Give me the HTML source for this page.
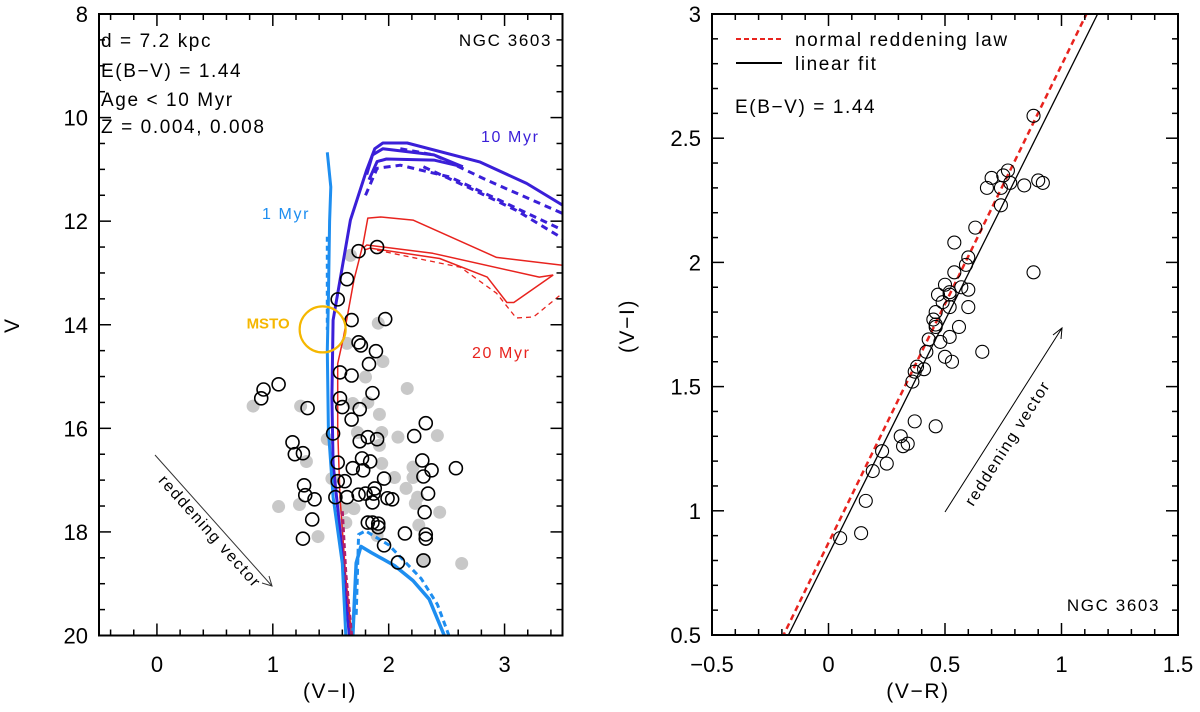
<!DOCTYPE html>
<html><head><meta charset="utf-8">
<style>
html,body{margin:0;padding:0;background:#fff;width:1200px;height:712px;overflow:hidden;}
svg{display:block;overflow:hidden;font-family:"Liberation Sans",sans-serif;}
.ann{letter-spacing:1.6px;}
</style></head>
<body>
<svg id="chart" width="1200" height="712" viewBox="0 0 1200 712" xmlns="http://www.w3.org/2000/svg">
<g id="left"></g>
<g id="right"></g>
</svg>
<script>
// ---------- LEFT PANEL DATA (V-I vs V) ----------
const openVI = [1.74,1.90,1.64,1.56,1.68,1.97,1.74,1.76,1.89,1.83,1.58,1.68,1.05,0.92,0.90,1.86,1.30,1.58,1.60,1.75,1.68,2.32,1.52,2.22,1.17,1.75,1.82,1.90,1.19,1.26,1.56,1.77,1.84,2.29,2.37,2.58,1.69,1.78,2.30,1.96,1.56,1.62,1.27,1.88,1.28,1.36,1.54,1.64,1.74,1.80,1.87,1.86,1.99,2.03,2.34,2.31,1.34,1.82,1.86,1.91,1.91,1.26,2.14,2.32,2.32,1.96,2.08,2.30];
const openV  = [12.58,12.50,13.12,13.51,13.91,13.89,14.34,14.40,14.51,14.76,14.92,14.98,15.15,15.25,15.42,15.32,15.61,15.42,15.59,15.63,15.83,15.90,16.10,16.15,16.27,16.25,16.17,16.21,16.50,16.48,16.66,16.58,16.64,16.62,16.81,16.77,16.77,16.81,16.93,16.97,17.02,17.02,17.10,17.16,17.29,17.37,17.33,17.33,17.28,17.26,17.26,17.43,17.35,17.37,17.26,17.62,17.76,17.82,17.82,17.84,17.91,18.13,18.03,18.05,18.13,18.26,18.59,18.55];
const grayVI = [1.67,1.91,1.64,1.95,1.80,2.16,0.83,1.24,1.92,1.69,1.82,1.73,1.94,2.08,2.42,1.47,1.92,1.29,1.94,2.21,2.05,2.21,1.51,2.15,2.25,2.23,1.05,1.23,1.61,1.70,2.44,1.63,2.26,1.39,1.90,2.30,2.63];
const grayV  = [12.66,13.97,14.36,14.71,15.01,15.23,15.57,15.57,15.73,15.52,15.50,16.08,16.08,16.17,16.14,16.21,16.33,16.64,16.68,16.75,16.95,16.95,16.97,17.16,17.33,17.45,17.51,17.47,17.55,17.55,17.62,17.82,17.87,18.09,18.07,18.55,18.61];
const iso1Solid = [[1.47,10.67],[1.50,11.34],[1.49,12.0],[1.48,13.5],[1.47,14.5],[1.48,16.04],[1.52,17.33],[1.60,18.61],[1.63,20.0]];
const iso1Dash  = [[1.47,12.3],[1.47,13.2],[1.47,14.1]];
const iso1Low   = [[1.69,20.0],[1.72,18.6],[1.76,18.28],[1.85,18.4],[2.05,18.65],[2.21,18.94],[2.35,19.3],[2.48,20.0]];
const iso1LowDash = [[1.72,19.6],[1.74,18.05],[1.80,17.98],[2.0,18.25],[2.28,18.9],[2.42,19.4],[2.52,20.0]];
const iso10A = [[1.66,20.0],[1.58,17.97],[1.52,16.68],[1.51,15.4],[1.52,13.91],[1.67,11.98],[1.81,11.01],[1.88,10.6],[1.95,10.49],[2.16,10.49],[2.79,10.86],[3.19,11.27],[3.5,11.69]];
const iso10B = [[1.81,11.1],[1.86,10.72],[1.95,10.6],[2.39,10.72],[2.64,10.95]];
const iso10C = [[1.83,11.2],[1.90,10.85],[1.98,10.8],[2.39,10.82],[2.64,10.95]];
const iso10D1 = [[2.1,10.6],[2.39,10.72],[2.85,11.21],[3.5,11.85]];
const iso10D2 = [[1.80,11.5],[1.90,10.98],[2.10,10.92],[2.53,11.15],[2.96,11.6],[3.5,12.17]];
const iso10D3 = [[2.3,10.95],[2.68,11.34],[3.1,11.79],[3.5,12.33]];
const iso20A = [[1.68,20.0],[1.63,18.88],[1.58,17.33],[1.56,16.04],[1.56,14.75],[1.61,14.24],[1.70,13.14],[1.78,12.43],[1.82,11.94],[1.93,11.92],[2.21,11.98],[2.93,12.7],[3.5,12.85]];
const iso20B = [[1.79,12.5],[1.81,12.46],[2.38,12.62],[3.3,13.08],[3.42,13.04]];
const iso20C = [[1.80,12.55],[1.84,12.52],[2.44,12.72],[2.85,13.08],[3.02,13.57],[3.08,13.57],[3.42,13.04]];
const iso20D = [[1.9,12.56],[2.62,12.89],[2.93,13.39],[3.1,13.87],[3.25,13.85],[3.5,13.39]];
const magDash = [[1.60,17.6],[1.63,18.8],[1.68,20.0]];
const msto = [1.43, 14.09];
const leftXTicks = [0,1,2,3];
const leftYTicks = [8,10,12,14,16,18,20];

// ---------- RIGHT PANEL DATA (V-R vs V-I) ----------
const ccVR = [0.77,0.75,0.70,0.68,0.74,0.78,0.84,0.90,0.92,0.74,0.63,0.54,0.60,0.59,0.54,0.88,0.50,0.57,0.60,0.52,0.47,0.52,0.49,0.52,0.60,0.46,0.45,0.46,0.46,0.56,0.43,0.48,0.52,0.66,0.42,0.50,0.53,0.38,0.37,0.41,0.36,0.37,0.46,0.31,0.34,0.32,0.23,0.25,0.19,0.16,0.14,0.05,0.88];
const ccVI = [2.37,2.35,2.34,2.30,2.30,2.32,2.31,2.33,2.32,2.23,2.14,2.08,2.02,1.99,1.96,1.96,1.91,1.90,1.89,1.88,1.87,1.87,1.84,1.82,1.82,1.80,1.77,1.75,1.74,1.74,1.69,1.68,1.70,1.64,1.64,1.62,1.60,1.58,1.56,1.57,1.52,1.36,1.34,1.30,1.27,1.26,1.24,1.19,1.16,1.04,0.91,0.89,2.59];
const fitCoef = [0.824, 1.884];   // intercept, slope
const normCoef = [0.871, 1.923];
const rightXTicks = [-0.5,0,0.5,1,1.5];
const rightXLabels = ["\u22120.5","0","0.5","1","1.5"];
const rightYTicks = [0.5,1,1.5,2,2.5,3];
const rightYLabels = ["0.5","1","1.5","2","2.5","3"];

// ---------- helpers ----------
const NS="http://www.w3.org/2000/svg";
function mk(parent,tag,attrs,text){const e=document.createElementNS(NS,tag);for(const k in attrs)e.setAttribute(k,attrs[k]);if(text!==undefined)e.textContent=text;parent.appendChild(e);return e;}

const L={x0:99,x1:562.5,y0:14,y1:635.5,xmin:-0.5,xmax:3.5,ymin:8,ymax:20};
const lx=v=>L.x0+(v-L.xmin)/(L.xmax-L.xmin)*(L.x1-L.x0);
const ly=v=>L.y0+(v-L.ymin)/(L.ymax-L.ymin)*(L.y1-L.y0);
const R={x0:712,x1:1178,y0:14,y1:635,xmin:-0.5,xmax:1.5,ymin:0.5,ymax:3};
const rx=v=>R.x0+(v-R.xmin)/(R.xmax-R.xmin)*(R.x1-R.x0);
const ry=v=>R.y1-(v-R.ymin)/(R.ymax-R.ymin)*(R.y1-R.y0);

const left=document.getElementById('left');
const right=document.getElementById('right');

const defs=mk(document.getElementById('chart'),'defs',{});
const cpL=mk(defs,'clipPath',{id:'cl'});mk(cpL,'rect',{x:L.x0,y:L.y0,width:L.x1-L.x0,height:L.y1-L.y0});
const cpR=mk(defs,'clipPath',{id:'cr'});mk(cpR,'rect',{x:R.x0,y:R.y0,width:R.x1-R.x0,height:R.y1-R.y0});

// ===== LEFT =====
const gGray=mk(left,'g',{'clip-path':'url(#cl)'});


for(let i=0;i<grayVI.length;i++){
  const c=mk(gGray,'circle',{cx:lx(grayVI[i]),cy:ly(grayV[i]),r:6.5,fill:'#c8c8c8'});
  
  
}
function poly(parent,pts,fx,fy,style,name){
  const d=pts.map((p,i)=>(i?'L':'M')+fx(p[0]).toFixed(1)+','+fy(p[1]).toFixed(1)).join(' ');
  const e=mk(parent,'path',Object.assign({d:d,fill:'none','stroke-linejoin':'round'},style));
  
  
  return e;
}
const gIso=mk(left,'g',{'clip-path':'url(#cl)'});


const red='#e8231e', blue='#3a1fd8', lblue='#1e8ef0';
poly(gIso,iso20A,lx,ly,{stroke:red,'stroke-width':1.5},'isochrone-20myr-a');
poly(gIso,iso20B,lx,ly,{stroke:red,'stroke-width':1.5},'isochrone-20myr-b');
poly(gIso,iso20C,lx,ly,{stroke:red,'stroke-width':1.5},'isochrone-20myr-c');
poly(gIso,iso20D,lx,ly,{stroke:red,'stroke-width':1.3,'stroke-dasharray':'5,4'},'isochrone-20myr-dashed');
poly(gIso,iso10A,lx,ly,{stroke:blue,'stroke-width':3},'isochrone-10myr-a');
poly(gIso,iso10B,lx,ly,{stroke:blue,'stroke-width':3},'isochrone-10myr-b');
poly(gIso,iso10C,lx,ly,{stroke:blue,'stroke-width':3},'isochrone-10myr-c');
poly(gIso,iso10D1,lx,ly,{stroke:blue,'stroke-width':3,'stroke-dasharray':'7,5'},'isochrone-10myr-dashed-1');
poly(gIso,iso10D2,lx,ly,{stroke:blue,'stroke-width':3,'stroke-dasharray':'7,5'},'isochrone-10myr-dashed-2');
poly(gIso,iso10D3,lx,ly,{stroke:blue,'stroke-width':3,'stroke-dasharray':'7,5'},'isochrone-10myr-dashed-3');
poly(gIso,iso1Solid,lx,ly,{stroke:lblue,'stroke-width':3},'isochrone-1myr');
poly(gIso,iso1Dash,lx,ly,{stroke:lblue,'stroke-width':3,'stroke-dasharray':'5,4'},'isochrone-1myr-dashed');
poly(gIso,iso1Low,lx,ly,{stroke:lblue,'stroke-width':3.5},'isochrone-1myr-pms');
poly(gIso,iso1LowDash,lx,ly,{stroke:lblue,'stroke-width':3,'stroke-dasharray':'6,4'},'isochrone-1myr-pms-dashed');
poly(gIso,magDash,lx,ly,{stroke:'#b0206a','stroke-width':3,'stroke-dasharray':'5,3'},'isochrone-overlap-dashed');

const gOpen=mk(left,'g',{'clip-path':'url(#cl)'});


for(let i=0;i<openVI.length;i++){
  const c=mk(gOpen,'circle',{cx:lx(openVI[i]),cy:ly(openV[i]),r:6.5,fill:'none',stroke:'#000','stroke-width':1.6});
  
  
}
const ms=mk(left,'circle',{cx:lx(msto[0]),cy:ly(msto[1]),r:23,fill:'none',stroke:'#f5b700','stroke-width':2.2});


mk(left,'text',{x:lx(msto[0])-33,y:ly(msto[1])-1,'text-anchor':'end','font-size':15,'font-weight':'bold',fill:'#f5b700',},'MSTO');

mk(left,'rect',{x:L.x0,y:L.y0,width:L.x1-L.x0,height:L.y1-L.y0,fill:'none',stroke:'#000','stroke-width':2,});
const lt=mk(left,'g',{stroke:'#000','stroke-width':1.5,});
for(let k=0;k<=20;k++){const v=-0.4+k*0.2; if(v>3.45)break; const isMaj=Math.abs(v-Math.round(v))<1e-6; const len=isMaj?12:6; const X=lx(v);
  mk(lt,'line',{x1:X,y1:L.y1,x2:X,y2:L.y1-len}); mk(lt,'line',{x1:X,y1:L.y0,x2:X,y2:L.y0+len});}
for(let k=1;k<24;k++){const v=8+k*0.5; const isMaj=(k%4===0); const len=isMaj?12:6; const Y=ly(v);
  mk(lt,'line',{x1:L.x0,y1:Y,x2:L.x0+len,y2:Y}); mk(lt,'line',{x1:L.x1,y1:Y,x2:L.x1-len,y2:Y});}
leftXTicks.forEach(v=>{const t=mk(left,'text',{x:lx(v),y:672,'text-anchor':'middle','font-size':22},String(v));
  });
leftYTicks.forEach(v=>{const t=mk(left,'text',{x:88,y:ly(v)+8,'text-anchor':'end','font-size':22},String(v));
  });
mk(left,'text',{x:330,y:698,'text-anchor':'middle','font-size':21,'class':'ann',},'(V\u2212I)');
mk(left,'text',{x:0,y:0,'text-anchor':'middle','font-size':21,transform:'translate(19,326) rotate(-90)',},'V');
const ann=[['d = 7.2 kpc',47],['E(B\u2212V) = 1.44',77],['Age < 10 Myr',106],['Z = 0.004, 0.008',133]];
ann.forEach(a=>{mk(left,'text',{x:101,y:a[1],'font-size':19,'class':'ann',},a[0]);});
mk(left,'text',{x:552,y:46,'text-anchor':'end','font-size':17,'class':'ann',},'NGC 3603');
mk(left,'text',{x:481,y:142,'font-size':16,'class':'ann',fill:blue,},'10 Myr');
mk(left,'text',{x:262,y:219,'font-size':16,'class':'ann',fill:lblue,},'1 Myr');
mk(left,'text',{x:472,y:358,'font-size':16,'class':'ann',fill:red,},'20 Myr');
const lv=mk(left,'g',{});
mk(lv,'line',{x1:155,y1:455,x2:272,y2:586,stroke:'#333','stroke-width':1});
mk(lv,'path',{d:'M262,583 L272,586 L269,576',fill:'none',stroke:'#333','stroke-width':1});
mk(lv,'text',{x:0,y:0,'text-anchor':'middle','font-size':16,'class':'ann',transform:'translate(206,535) rotate(48.2)'},'reddening vector');

// ===== RIGHT =====
const gL=mk(right,'g',{'clip-path':'url(#cr)'});


const fit=mk(gL,'line',{x1:rx(R.xmin),y1:ry(fitCoef[0]+fitCoef[1]*R.xmin),x2:rx(R.xmax),y2:ry(fitCoef[0]+fitCoef[1]*R.xmax),stroke:'#000','stroke-width':1.3});


const nrm=mk(gL,'line',{x1:rx(R.xmin),y1:ry(normCoef[0]+normCoef[1]*R.xmin),x2:rx(R.xmax),y2:ry(normCoef[0]+normCoef[1]*R.xmax),stroke:'#e8231e','stroke-width':2.5,'stroke-dasharray':'6,4'});


const gC=mk(right,'g',{'clip-path':'url(#cr)'});


for(let i=0;i<ccVR.length;i++){
  const c=mk(gC,'circle',{cx:rx(ccVR[i]),cy:ry(ccVI[i]),r:6.5,fill:'none',stroke:'#000','stroke-width':1.1});
  
  
}
mk(right,'rect',{x:R.x0,y:R.y0,width:R.x1-R.x0,height:R.y1-R.y0,fill:'none',stroke:'#000','stroke-width':2,});
const rt=mk(right,'g',{stroke:'#000','stroke-width':1.5,});
for(let k=1;k<20;k++){const v=-0.5+k*0.1; const isMaj=(k%5===0); const len=isMaj?12:6; const X=rx(v);
  mk(rt,'line',{x1:X,y1:R.y1,x2:X,y2:R.y1-len}); mk(rt,'line',{x1:X,y1:R.y0,x2:X,y2:R.y0+len});}
for(let k=1;k<25;k++){const v=0.5+k*0.1; const isMaj=(k%5===0); const len=isMaj?12:6; const Y=ry(v);
  mk(rt,'line',{x1:R.x0,y1:Y,x2:R.x0+len,y2:Y}); mk(rt,'line',{x1:R.x1,y1:Y,x2:R.x1-len,y2:Y});}
rightXTicks.forEach((v,i)=>{const t=mk(right,'text',{x:rx(v),y:672,'text-anchor':'middle','font-size':22},rightXLabels[i]);
  });
rightYTicks.forEach((v,i)=>{const t=mk(right,'text',{x:701,y:ry(v)+8,'text-anchor':'end','font-size':22},rightYLabels[i]);
  });
mk(right,'text',{x:918,y:698,'text-anchor':'middle','font-size':21,'class':'ann',},'(V\u2212R)');
mk(right,'text',{x:0,y:0,'text-anchor':'middle','font-size':21,'class':'ann',transform:'translate(634,326) rotate(-90)',},'(V\u2212I)');
const lg=mk(right,'g',{});
mk(lg,'line',{x1:736,y1:39,x2:782,y2:39,stroke:'#e8231e','stroke-width':2,'stroke-dasharray':'5,3'});
mk(lg,'text',{x:795,y:46,'font-size':19,'class':'ann'},'normal reddening law');
mk(lg,'line',{x1:736,y1:63,x2:782,y2:63,stroke:'#000','stroke-width':2});
mk(lg,'text',{x:795,y:70,'font-size':19,'class':'ann'},'linear fit');
mk(right,'text',{x:735,y:113,'font-size':19,'class':'ann',},'E(B\u2212V) = 1.44');
mk(right,'text',{x:1160,y:611,'text-anchor':'end','font-size':17,'class':'ann',},'NGC 3603');
const rv=mk(right,'g',{});
mk(rv,'line',{x1:945,y1:512,x2:1062,y2:328,stroke:'#000','stroke-width':1});
mk(rv,'path',{d:'M1053,335 L1062,328 L1061,339',fill:'none',stroke:'#000','stroke-width':1});
mk(rv,'text',{x:0,y:0,'text-anchor':'middle','font-size':16,'class':'ann',transform:'translate(1012,446) rotate(-57.5)'},'reddening vector');
</script>
</body></html>
